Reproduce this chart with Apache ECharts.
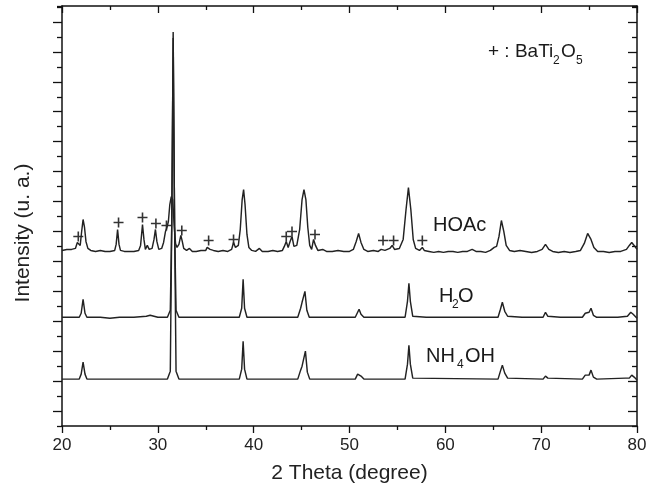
<!DOCTYPE html>
<html>
<head>
<meta charset="utf-8">
<script src="https://cdn.jsdelivr.net/npm/echarts@6/dist/echarts.min.js"></script>
<style>
html,body{margin:0;padding:0;background:#fff;}
#chart{width:659px;height:489px;}
</style>
</head>
<body>
<div id="chart"></div>
<script>
// 2-theta (degree) vs offset intensity (arbitrary units)
const xTicks = [20, 30, 40, 50, 60, 70, 80];

const hoac = [
[20.0,176],[20.5,177],[21.0,177],[21.4,178],[21.6,184],[21.75,185],[21.9,181],[22.05,195],[22.2,207],[22.35,199],[22.5,185],[22.7,178],
[23.0,176],[23.5,175],[24.0,176],[24.5,175],[25.0,175],[25.5,176],[25.65,182],[25.8,197],[25.95,182],[26.1,176],[26.5,175],[27.0,175],
[27.5,175],[28.0,176],[28.2,181],[28.4,202],[28.55,187],[28.7,177],[28.9,181],[29.1,177],[29.4,178],[29.6,187],[29.75,197],[29.9,185],
[30.1,177],[30.4,178],[30.6,184],[30.8,195],[30.95,199],[31.1,205],[31.25,222],[31.4,230],[31.55,227],[31.7,202],[31.85,183],[32.0,179],
[32.2,182],[32.4,191],[32.55,185],[32.7,178],[33.0,176],[33.3,178],[33.6,175],[34.0,175],[34.5,176],[35.0,176],[35.15,179],[35.3,181],
[35.45,177],[35.8,176],[36.3,175],[36.8,176],[37.3,175],[37.7,177],[37.9,184],[38.1,179],[38.4,181],[38.6,197],[38.8,227],[38.95,237],
[39.1,222],[39.3,192],[39.5,179],[39.8,176],[40.2,175],[40.6,178],[40.9,175],[41.5,175],[42.0,176],[42.5,175],[43.0,176],[43.2,180],
[43.4,185],[43.6,179],[43.8,185],[44.0,190],[44.2,180],[44.5,181],[44.8,197],[45.05,227],[45.25,237],[45.45,227],[45.65,199],[45.85,181],
[46.05,177],[46.25,187],[46.45,181],[46.7,176],[47.2,177],[47.6,175],[48.2,175],[48.8,176],[49.4,175],[50.0,175],[50.4,177],[50.7,185],
[50.95,193],[51.2,184],[51.5,177],[51.9,175],[52.5,176],[53.0,175],[53.3,177],[53.5,179],[53.7,176],[54.2,178],[54.45,181],[54.7,177],
[55.2,178],[55.6,187],[55.9,217],[56.15,239],[56.4,217],[56.65,187],[56.9,178],[57.3,176],[57.6,179],[57.8,176],[58.3,175],[58.8,174],
[59.3,175],[59.8,174],[60.3,175],[60.8,175],[61.3,174],[61.8,175],[62.3,175],[62.8,177],[63.2,175],[63.7,175],[64.2,174],[64.7,176],
[65.1,179],[65.35,180],[65.6,190],[65.85,206],[66.1,195],[66.35,181],[66.7,176],[67.2,175],[67.8,176],[68.4,175],[69.0,174],[69.6,175],
[70.1,177],[70.45,182],[70.8,177],[71.2,175],[71.8,174],[72.4,175],[73.0,174],[73.6,175],[74.1,176],[74.5,183],[74.85,193],[75.2,187],
[75.5,179],[75.9,175],[76.5,175],[77.1,174],[77.7,175],[78.3,175],[78.9,177],[79.2,181],[79.45,184],[79.7,181],[80.0,177]
];

const h2o = [
[20.0,109],[21.0,109],[21.8,109],[22.0,113],[22.2,127],[22.4,113],[22.6,109],[24.0,109],[25.0,108],[26.0,109],[27.5,109],[28.8,110],
[29.2,111],[29.6,110],[30.0,109],[31.0,109],[31.3,116],[31.45,200],[31.6,389],[31.75,200],[31.9,116],[32.2,109],[34.0,109],[36.0,109],
[38.5,109],[38.75,118],[38.9,147],[39.05,118],[39.3,109],[42.0,109],[44.6,109],[44.9,118],[45.05,124],[45.2,126],[45.35,135],[45.55,116],
[45.8,109],[48.0,109],[50.6,109],[50.85,114],[51.0,117],[51.2,112],[51.5,109],[54.0,109],[55.8,109],[56.05,125],[56.2,143],[56.35,125],
[56.6,110],[58.0,109],[62.0,109],[65.5,109],[65.75,117],[65.95,124],[66.2,115],[66.5,110],[68.0,109],[70.2,109],[70.45,114],[70.7,110],
[72.0,109],[74.3,109],[74.6,113],[74.8,115],[75.0,114],[75.2,118],[75.45,111],[75.8,109],[78.0,109],[79.0,110],[79.35,114],[79.6,112],[80.0,108]
];

const nh4oh = [
[20.0,47],[21.8,47],[22.0,52],[22.2,64],[22.4,52],[22.6,47],[25.0,47],[30.0,47],[31.0,47],[31.3,55],[31.45,200],[31.6,395],[31.75,200],
[31.9,55],[32.2,47],[38.5,47],[38.75,57],[38.9,85],[39.05,57],[39.3,47],[44.6,47],[44.9,56],[45.05,60],[45.2,62],[45.4,75],[45.6,54],
[45.85,47],[50.6,47],[50.85,52],[51.0,54],[51.2,50],[51.5,47],[55.8,47],[56.05,62],[56.2,81],[56.35,62],[56.6,48],[65.5,47],[65.75,55],
[65.95,61],[66.2,53],[66.5,48],[70.2,47],[70.45,50],[70.7,48],[74.3,47],[74.6,51],[74.8,52],[75.0,51],[75.2,56],[75.45,49],[75.8,47],
[78.8,48],[79.0,49],[79.2,48],[79.45,51],[79.7,49],[80.0,46]
];

// BaTi2O5 reflections marked with "+"
const bati2o5Marks = [
[21.7,190],[25.9,204],[28.4,209],[29.8,203],[30.9,201],[32.5,196],[35.3,186],[37.9,187],
[43.4,190],[44.0,195],[46.4,192],[53.5,186],[54.6,186],[57.6,186]
];

const FONT = 'Liberation Sans, Arial, Helvetica, sans-serif';
const LINE = '#222';
const AX = '#111';
const plusPath = 'path://M4.2,0H5.8V10H4.2Z M0,4.2H10V5.8H0Z';

const chart = echarts.init(document.getElementById('chart'), null, {renderer: 'canvas'});

function xAxisCfg(pos, showLabel, inside) {
  return {
    type: 'value', position: pos, min: 20, max: 80, interval: 10,
    axisLine: {show: true, onZero: false, lineStyle: {color: AX, width: 1.5}},
    axisTick: {show: true, inside: inside, length: 7, lineStyle: {color: AX, width: 1.3}},
    minorTick: {show: true, splitNumber: 2, length: 4, lineStyle: {color: AX, width: 1.3}},
    axisLabel: {show: showLabel, margin: 11, color: '#222', fontSize: 17, fontFamily: FONT},
    splitLine: {show: false}, minorSplitLine: {show: false}
  };
}
function yAxisCfg(pos, inside) {
  return {
    type: 'value', position: pos, min: 0, max: 421, interval: 30,
    axisLine: {show: true, onZero: false, lineStyle: {color: AX, width: 1.5}},
    axisTick: {show: true, inside: inside, length: 5, lineStyle: {color: AX, width: 1.3}},
    minorTick: {show: true, splitNumber: 2, length: 9, lineStyle: {color: AX, width: 1.3}},
    axisLabel: {show: false},
    splitLine: {show: false}, minorSplitLine: {show: false}
  };
}

const xb = xAxisCfg('bottom', true, false);
xb.name = '2 Theta (degree)';
xb.nameLocation = 'middle';
xb.nameGap = 37;
xb.nameTextStyle = {color: '#222', fontSize: 21, fontFamily: FONT};

const lineSeries = (name, data) => ({
  name: name, type: 'line', data: data, xAxisIndex: 0, yAxisIndex: 0,
  showSymbol: false, symbol: 'none', smooth: false,
  lineStyle: {color: LINE, width: 1.45}, silent: true
});

const txt = (t, x, y, size) => ({
  type: 'text', x: x, y: y,
  style: {text: t, fill: '#1a1a1a', font: size + 'px ' + FONT, textAlign: 'left', textVerticalAlign: 'middle'}
});

chart.setOption({
  animation: false,
  backgroundColor: '#fff',
  grid: {left: 62, right: 22, top: 6, bottom: 62, containLabel: false},
  xAxis: [xb, xAxisCfg('top', false, true)],
  yAxis: [yAxisCfg('left', false), yAxisCfg('right', true)],
  series: [
    lineSeries('NH4OH', nh4oh),
    lineSeries('H2O', h2o),
    lineSeries('HOAc', hoac),
    {
      name: 'BaTi2O5', type: 'scatter', data: bati2o5Marks,
      symbol: plusPath, symbolSize: 10,
      itemStyle: {color: '#000'}, silent: true
    }
  ],
  graphic: [
    {type: 'text', x: 23, y: 233, rotation: Math.PI / 2,
     style: {text: 'Intensity (u. a.)', fill: '#222', font: '21px ' + FONT, textAlign: 'center', textVerticalAlign: 'middle'}},
    txt('+ : BaTi', 488, 52, 19),
    txt('2', 553, 61, 12),
    txt('O', 561, 52, 19),
    txt('5', 576, 61, 12),
    txt('HOAc', 433, 225, 20),
    txt('H', 439, 296, 20),
    txt('2', 452, 305, 12),
    txt('O', 458, 296, 20),
    txt('NH', 426, 356, 20),
    txt('4', 457, 365, 12),
    txt('OH', 465, 356, 20)
  ]
});
</script>
</body>
</html>
